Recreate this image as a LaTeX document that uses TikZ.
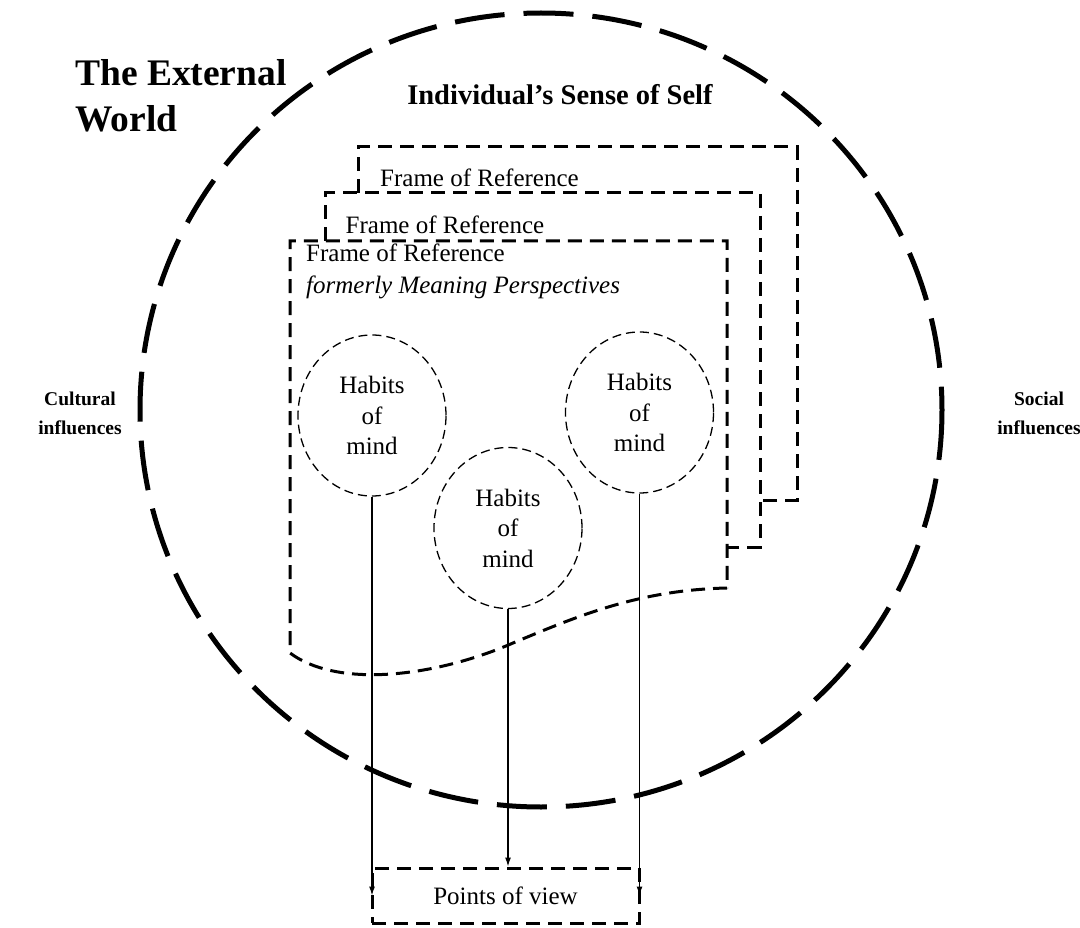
\documentclass[tikz,border=0pt]{standalone}
\usepackage{fontspec}
\setmainfont{Liberation Serif}
\usetikzlibrary{calc,positioning,shapes.geometric,arrows.meta}

\begin{document}
\begin{tikzpicture}[x=1pt,y=-1pt]

\tikzset{framedash/.style={line width=3pt,dash pattern=on 14pt off 8pt},
habitnode/.style={shape=ellipse,draw,line width=1.3pt,dash pattern=on 9pt off 5pt,minimum width=148pt,minimum height=161pt,inner sep=0pt,align=center,font=\fontsize{25}{30.5}\selectfont},
framelabel/.style={anchor=base west,inner sep=0pt,font=\fontsize{25}{30}\selectfont},
boldlabel/.style={align=center,inner sep=0pt,font=\bfseries\fontsize{19.5}{29}\selectfont},
povnode/.style={framedash,draw,minimum width=267pt,minimum height=55pt,inner sep=0pt,font=\fontsize{25}{30}\selectfont},
flow/.style={line width=1.2pt,-{Latex[length=9pt,width=6pt]}}}

\useasboundingbox (0,0) rectangle (1080,928);

% External world circle
\draw[line width=5pt,dash pattern=on 50pt off 19pt] (541,410) ellipse [x radius=401,y radius=397];

% Outer labels
\node[anchor=north west,align=left,inner sep=0pt,font=\bfseries\fontsize{37.5}{46}\selectfont] (world) at (75,59.5) {The External\\World};
\node[anchor=base,inner sep=0pt,font=\bfseries\fontsize{28.5}{30}\selectfont] (self) at (560,105) {Individual’s Sense of Self};
\node[boldlabel] (cultural) at (80,413) {Cultural\\influences};
\node[boldlabel] (social) at (1039,413) {Social\\influences};

% Frames of reference (back to front)
\draw[framedash] (358,193) -- (358,147) -- (797,147) -- (797,500) -- (760,500);
\draw[framedash] (325,241) -- (325,193) -- (760,193) -- (760,547) -- (727,547);
\draw[framedash] (727,588) .. controls (640,590) and (580,615) .. (513,643) .. controls (440,675) and (340,690) .. (290,653) -- (290,241) -- (727,241) -- cycle;
\node[framelabel] (for3) at (380,186.5) {Frame of Reference};
\node[framelabel] (for2) at (345.5,234) {Frame of Reference};
\node[framelabel] (for1) at (306,262) {Frame of Reference};
\node[framelabel] (former) at (306,293.5) {\itshape formerly Meaning Perspectives};

% Habits of mind
\node[habitnode] (hom1) at (372,415.5) {Habits\\of\\mind};
\node[habitnode] (hom2) at (508,528) {Habits\\of\\mind};
\node[habitnode] (hom3) at (639.5,412.5) {Habits\\of\\mind};

% Points of view
\node[povnode] (pov) at (505.5,895.5) {Points of view};
\draw[flow] (hom1.south) -- (hom1.south |- pov.west);
\draw[flow] (hom2.south) -- (hom2.south |- pov.north);
\draw[flow] (hom3.south) -- (hom3.south |- pov.east);

\end{tikzpicture}
\end{document}
